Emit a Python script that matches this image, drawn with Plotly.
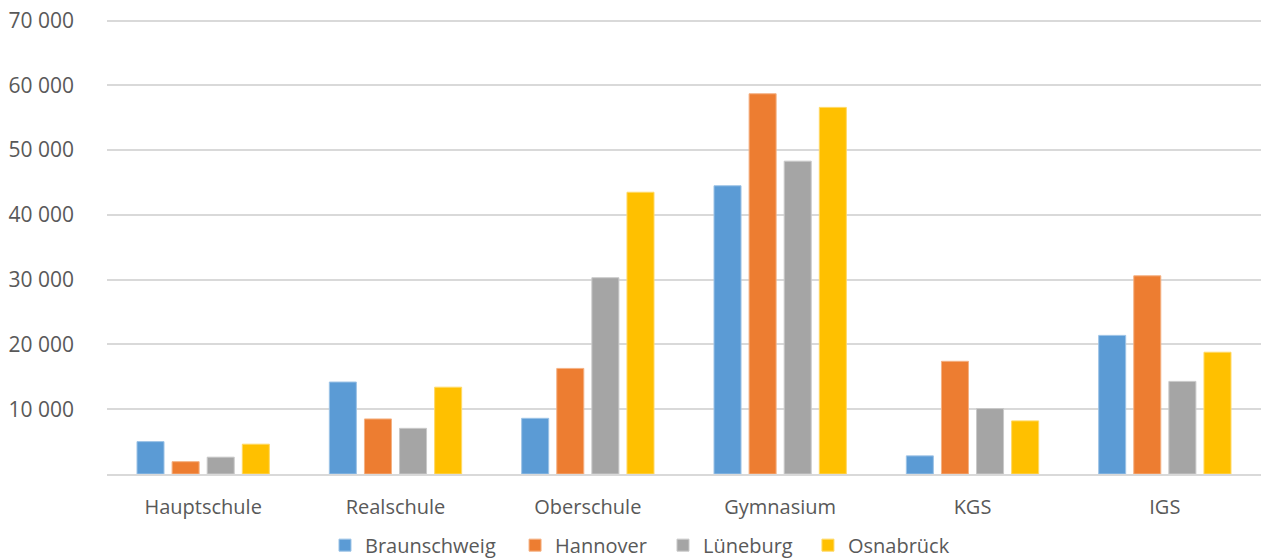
import plotly.graph_objects as go

categories = ["Hauptschule", "Realschule", "Oberschule", "Gymnasium", "KGS", "IGS"]
series_names = ["Braunschweig", "Hannover", "Lüneburg", "Osnabrück"]
braunschweig = [5000, 14200, 8600, 44500, 2800, 21400]
hannover = [1900, 8500, 16300, 58700, 17400, 30600]
lueneburg = [2600, 7050, 30300, 48300, 10100, 14300]
osnabrueck = [4600, 13400, 43500, 56600, 8200, 18800]
tick_vals = [10000, 20000, 30000, 40000, 50000, 60000, 70000]
tick_text = ["10 000", "20 000", "30 000", "40 000", "50 000", "60 000", "70 000"]

colors = ["#5B9BD5", "#ED7D31", "#A5A5A5", "#FFC000"]
edge = ["#9DC3E6", "#F4B183", "#C9C9C9", "#FFD966"]
values = [braunschweig, hannover, lueneburg, osnabrueck]
legend_ids = ["legend", "legend2", "legend3", "legend4"]
legend_x = [0.1889, 0.3536, 0.4818, 0.6074]

fig = go.Figure()
for name, vals, c, e, lg in zip(series_names, values, colors, edge, legend_ids):
    fig.add_trace(go.Bar(
        name=name, x=categories, y=vals, legend=lg,
        marker=dict(color=c, line=dict(color=e, width=1)),
    ))

FONT = "Open Sans"
legend_common = dict(
    orientation="h", xanchor="left", y=-0.156, yanchor="middle",
    font=dict(family=FONT, size=20, color="#595959"),
    itemwidth=30, bgcolor="rgba(0,0,0,0)",
)
fig.update_layout(
    width=1261, height=560,
    margin=dict(l=107, r=0, t=18, b=86, autoexpand=False),
    paper_bgcolor="white", plot_bgcolor="white",
    barmode="group", bargap=0.27, bargroupgap=0.23,
    font=dict(family=FONT, color="#595959", size=20),
    showlegend=True,
    xaxis=dict(
        showgrid=False, showline=True, linecolor="#D9D9D9", linewidth=1.5,
        ticks="", tickfont=dict(size=20, color="#595959"),
        ticklabelstandoff=14, automargin=False,
    ),
    yaxis=dict(
        range=[0, 70400], tickvals=tick_vals, ticktext=tick_text,
        showgrid=True, gridcolor="#D9D9D9", gridwidth=1.5,
        zeroline=False, showline=False, ticks="",
        tickfont=dict(size=21, color="#595959"),
        ticklabelstandoff=32, automargin=False,
    ),
)
for lg, lx in zip(legend_ids, legend_x):
    fig.update_layout({lg: dict(legend_common, x=lx)})

fig.write_html(
    "out.html",
    config={"displayModeBar": False},
    post_script="document.body.style.margin='0';document.body.style.overflow='hidden';",
)
